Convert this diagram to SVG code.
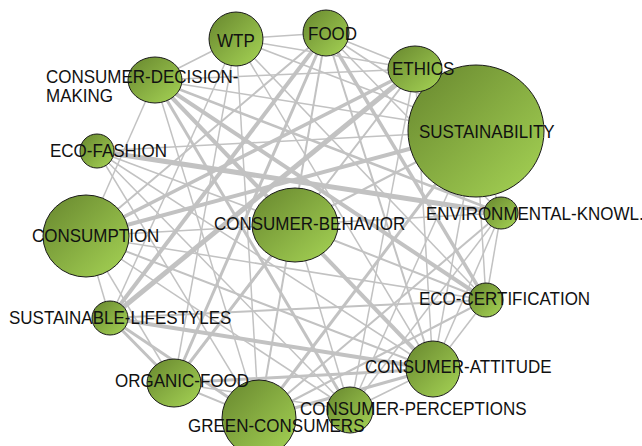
<svg xmlns="http://www.w3.org/2000/svg" width="642" height="446" viewBox="0 0 642 446">
<defs>
<linearGradient id="g" x1="0" y1="0" x2="1" y2="1">
<stop offset="0" stop-color="#67862e"/>
<stop offset="1" stop-color="#a6d455"/>
</linearGradient>
<style>
.e{stroke:#c2c2c2;fill:none;stroke-linecap:butt}
.n{fill:url(#g);stroke:#1a1a1a;stroke-width:1}
.t{font-family:"Liberation Sans",Arial,sans-serif;font-size:17px;fill:#111}
</style>
</defs>
<rect width="642" height="446" fill="#fff"/>
<g id="edges" class="e">
<line x1="236" y1="39" x2="155" y2="80" stroke-width="1.5"/>
<line x1="236" y1="39" x2="326" y2="33" stroke-width="1.5"/>
<line x1="236" y1="39" x2="476" y2="131" stroke-width="1.5"/>
<line x1="236" y1="39" x2="415" y2="69" stroke-width="1.5"/>
<line x1="236" y1="39" x2="259" y2="418" stroke-width="1.5"/>
<line x1="236" y1="39" x2="174" y2="383" stroke-width="1.5"/>
<line x1="236" y1="39" x2="433" y2="369" stroke-width="1.5"/>
<line x1="236" y1="39" x2="486" y2="300" stroke-width="1.5"/>
<line x1="236" y1="39" x2="110" y2="318" stroke-width="1.5"/>
<line x1="326" y1="33" x2="415" y2="69" stroke-width="1.5"/>
<line x1="326" y1="33" x2="476" y2="131" stroke-width="1.5"/>
<line x1="326" y1="33" x2="110" y2="318" stroke-width="4"/>
<line x1="326" y1="33" x2="174" y2="383" stroke-width="3"/>
<line x1="326" y1="33" x2="259" y2="418" stroke-width="2"/>
<line x1="326" y1="33" x2="486" y2="300" stroke-width="3.5"/>
<line x1="326" y1="33" x2="433" y2="369" stroke-width="2"/>
<line x1="326" y1="33" x2="86" y2="236" stroke-width="2"/>
<line x1="326" y1="33" x2="501" y2="213" stroke-width="1.5"/>
<line x1="415" y1="69" x2="110" y2="318" stroke-width="5"/>
<line x1="415" y1="69" x2="86" y2="236" stroke-width="3.5"/>
<line x1="415" y1="69" x2="433" y2="369" stroke-width="1.5"/>
<line x1="415" y1="69" x2="155" y2="80" stroke-width="1.5"/>
<line x1="415" y1="69" x2="174" y2="383" stroke-width="2"/>
<line x1="415" y1="69" x2="350" y2="410" stroke-width="1.5"/>
<line x1="476" y1="131" x2="86" y2="236" stroke-width="4"/>
<line x1="476" y1="131" x2="155" y2="80" stroke-width="1.5"/>
<line x1="476" y1="131" x2="97" y2="151" stroke-width="1.5"/>
<line x1="476" y1="131" x2="295" y2="225" stroke-width="2"/>
<line x1="476" y1="131" x2="259" y2="418" stroke-width="3"/>
<line x1="476" y1="131" x2="350" y2="410" stroke-width="1.5"/>
<line x1="476" y1="131" x2="501" y2="213" stroke-width="1.5"/>
<line x1="476" y1="131" x2="486" y2="300" stroke-width="1.5"/>
<line x1="476" y1="131" x2="433" y2="369" stroke-width="1.5"/>
<line x1="97" y1="151" x2="501" y2="213" stroke-width="5"/>
<line x1="97" y1="151" x2="350" y2="410" stroke-width="1.5"/>
<line x1="97" y1="151" x2="433" y2="369" stroke-width="1.5"/>
<line x1="97" y1="151" x2="259" y2="418" stroke-width="1.5"/>
<line x1="97" y1="151" x2="295" y2="225" stroke-width="1.5"/>
<line x1="155" y1="80" x2="486" y2="300" stroke-width="4"/>
<line x1="155" y1="80" x2="86" y2="236" stroke-width="1.5"/>
<line x1="155" y1="80" x2="501" y2="213" stroke-width="2.5"/>
<line x1="155" y1="80" x2="433" y2="369" stroke-width="4"/>
<line x1="155" y1="80" x2="350" y2="410" stroke-width="3"/>
<line x1="155" y1="80" x2="259" y2="418" stroke-width="1.5"/>
<line x1="86" y1="236" x2="501" y2="213" stroke-width="1.5"/>
<line x1="86" y1="236" x2="486" y2="300" stroke-width="1.5"/>
<line x1="86" y1="236" x2="433" y2="369" stroke-width="2"/>
<line x1="86" y1="236" x2="350" y2="410" stroke-width="1.5"/>
<line x1="86" y1="236" x2="110" y2="318" stroke-width="1.5"/>
<line x1="86" y1="236" x2="174" y2="383" stroke-width="1.5"/>
<line x1="110" y1="318" x2="433" y2="369" stroke-width="4"/>
<line x1="110" y1="318" x2="174" y2="383" stroke-width="3"/>
<line x1="110" y1="318" x2="259" y2="418" stroke-width="3"/>
<line x1="110" y1="318" x2="486" y2="300" stroke-width="2"/>
<line x1="174" y1="383" x2="350" y2="410" stroke-width="1.5"/>
<line x1="174" y1="383" x2="433" y2="369" stroke-width="3"/>
<line x1="174" y1="383" x2="295" y2="225" stroke-width="3"/>
<line x1="259" y1="418" x2="433" y2="369" stroke-width="3"/>
<line x1="259" y1="418" x2="486" y2="300" stroke-width="2"/>
<line x1="259" y1="418" x2="501" y2="213" stroke-width="2"/>
<line x1="259" y1="418" x2="174" y2="383" stroke-width="2"/>
<line x1="350" y1="410" x2="433" y2="369" stroke-width="1.5"/>
<line x1="350" y1="410" x2="295" y2="225" stroke-width="1.5"/>
<line x1="350" y1="410" x2="501" y2="213" stroke-width="1.5"/>
<line x1="433" y1="369" x2="486" y2="300" stroke-width="1.5"/>
<line x1="433" y1="369" x2="501" y2="213" stroke-width="1.5"/>
<line x1="486" y1="300" x2="501" y2="213" stroke-width="1.5"/>
<line x1="295" y1="225" x2="486" y2="300" stroke-width="2"/>
</g>
<g id="node-sustainability"><ellipse class="n" cx="476" cy="131" rx="68" ry="66"/><text class="t" transform="translate(419,138) scale(1,1.09)">SUSTAINABILITY</text></g>
<g id="node-ethics"><ellipse class="n" cx="415" cy="69" rx="27" ry="23"/><text class="t" transform="translate(392,75) scale(1,1.09)">ETHICS</text></g>
<g id="node-wtp"><ellipse class="n" cx="236" cy="39" rx="27" ry="27"/><text class="t" transform="translate(217,47) scale(1,1.09)">WTP</text></g>
<g id="node-food"><ellipse class="n" cx="326" cy="33" rx="23" ry="23"/><text class="t" transform="translate(308,40) scale(1,1.09)">FOOD</text></g>
<g id="node-consumer-decision-making"><ellipse class="n" cx="155" cy="80" rx="27" ry="23"/><text class="t" transform="translate(46,83) scale(1,1.09)">CONSUMER-DECISION-</text><text class="t" transform="translate(46,102) scale(1,1.09)">MAKING</text></g>
<g id="node-eco-fashion"><ellipse class="n" cx="97" cy="151" rx="17" ry="17"/><text class="t" transform="translate(50,157) scale(1,1.09)">ECO-FASHION</text></g>
<g id="node-consumption"><ellipse class="n" cx="86" cy="236" rx="43" ry="41"/><text class="t" transform="translate(32,242) scale(1,1.09)">CONSUMPTION</text></g>
<g id="node-consumer-behavior"><ellipse class="n" cx="295" cy="225" rx="43" ry="37"/><text class="t" transform="translate(214,230) scale(1,1.09)">CONSUMER-BEHAVIOR</text></g>
<g id="node-environmental-knowl"><ellipse class="n" cx="501" cy="213" rx="17" ry="16"/><text class="t" transform="translate(426,220) scale(1,1.09)">ENVIRONMENTAL-KNOWL.</text></g>
<g id="node-eco-certification"><ellipse class="n" cx="486" cy="300" rx="17" ry="17"/><text class="t" transform="translate(419,305) scale(1,1.09)">ECO-CERTIFICATION</text></g>
<g id="node-sustainable-lifestyles"><ellipse class="n" cx="110" cy="318" rx="18" ry="17"/><text class="t" transform="translate(9,324) scale(1,1.09)">SUSTAINABLE-LIFESTYLES</text></g>
<g id="node-consumer-attitude"><ellipse class="n" cx="433" cy="369" rx="27" ry="28"/><text class="t" transform="translate(365,373) scale(1,1.09)">CONSUMER-ATTITUDE</text></g>
<g id="node-consumer-perceptions"><ellipse class="n" cx="350" cy="410" rx="23" ry="23"/><text class="t" transform="translate(300,415) scale(1,1.09)">CONSUMER-PERCEPTIONS</text></g>
<g id="node-green-consumers"><ellipse class="n" cx="259" cy="418" rx="37" ry="38"/><text class="t" transform="translate(188,432) scale(1,1.09)">GREEN-CONSUMERS</text></g>
<g id="node-organic-food"><ellipse class="n" cx="174" cy="383" rx="27" ry="24"/><text class="t" transform="translate(115,387) scale(1,1.09)">ORGANIC-FOOD</text></g>
</svg>
